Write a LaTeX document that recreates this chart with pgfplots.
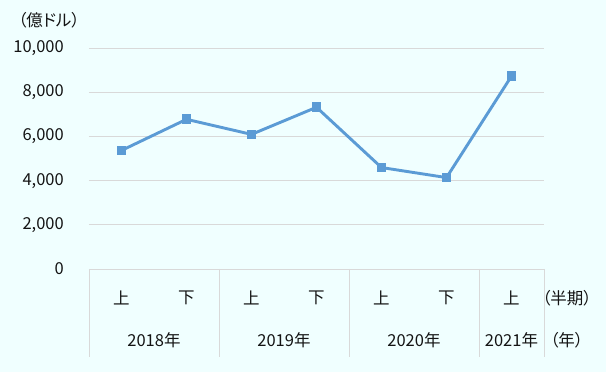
\documentclass[border=0pt]{standalone}
\usepackage{fontspec}
\setmainfont{Noto Sans CJK JP}[RawFeature=+palt]
\usepackage{pgfplots}
\pgfplotsset{compat=1.18}
\definecolor{bgc}{HTML}{F0FFFF}
\definecolor{linec}{HTML}{5B9BD5}
\definecolor{gridc}{HTML}{D9D9D9}
\definecolor{txt}{HTML}{141414}
\begin{document}
\begin{tikzpicture}[font=\fontsize{16.5pt}{19pt}\selectfont]
\path[use as bounding box] (-89pt,-103pt) rectangle (517pt,269pt);
\fill[bgc] (-89pt,-103pt) rectangle (517pt,269pt);
\begin{axis}[
  scale only axis, width=455pt, height=221pt,
  xmin=-0.5, xmax=6.5, ymin=0, ymax=10000,
  clip=false,
  axis line style={draw=none},
  major tick length=0pt,
  scaled y ticks=false,
  ytick={0,2000,4000,6000,8000,10000},
  ymajorgrids, grid style={gridc, line width=0.8pt},
  /pgf/number format/.cd, fixed, precision=0, 1000 sep={,}, assume math mode=true, /pgfplots/.cd,
  yticklabel style={anchor=east, inner sep=0pt, xshift=-25pt, text=txt},
  xtick={0,1,2,3,4,5,6},
  xticklabels={上,下,上,下,上,下,上},
  xticklabel style={anchor=center, inner sep=0pt, yshift=-29pt, text=txt},
  extra x ticks={0.5,2.5,4.5,6},
  extra x tick labels={2018年,2019年,2020年,2021年},
  extra x tick style={xticklabel style={yshift=-42pt}},
]
\addplot[color=linec, line width=2.9pt, mark=square*, mark size=3.4pt, mark options={solid}]
  coordinates {(0,5364) (1,6773) (2,6091) (3,7318) (4,4591) (5,4136) (6,8727)};
\draw[gridc, line width=0.8pt] (axis cs:-0.5,0) -- ++(0pt,-88pt);
\draw[gridc, line width=0.8pt] (axis cs:1.5,0) -- ++(0pt,-88pt);
\draw[gridc, line width=0.8pt] (axis cs:3.5,0) -- ++(0pt,-88pt);
\draw[gridc, line width=0.8pt] (axis cs:5.5,0) -- ++(0pt,-88pt);
\draw[gridc, line width=0.8pt] (axis cs:6.5,0) -- ++(0pt,-88pt);
\node[anchor=west, inner sep=0pt, text=txt] at ([xshift=-2pt,yshift=-29pt]axis cs:6.5,0) {（半期）};
\node[anchor=west, inner sep=0pt, text=txt] at ([xshift=6pt,yshift=-71pt]axis cs:6.5,0) {（年）};
\node[anchor=west, inner sep=0pt, text=txt] at ([xshift=-71pt,yshift=28pt]rel axis cs:0,1) {（億ドル）};
\end{axis}
\end{tikzpicture}
\end{document}
